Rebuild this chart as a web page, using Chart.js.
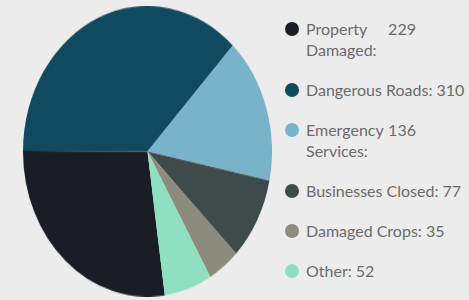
<!DOCTYPE html>
<html>
<head>
<meta charset="utf-8">
<script src="https://cdn.jsdelivr.net/npm/chart.js@4"></script>
<style>
  html, body { margin: 0; padding: 0; }
  body { width: 469px; height: 300px; background: #ececec; position: relative; overflow: hidden; font-family: Lato, "Open Sans", sans-serif; }
  #pieBox { position: absolute; left: 23px; top: 6px; width: 249px; height: 249px; transform: scaleY(1.168); transform-origin: top left; }
  #legend { position: absolute; left: 285px; top: 18px; color: #6b6b6b; font-size: 16px; line-height: 21px; }
  .row { display: flex; align-items: flex-start; margin-bottom: 19px; white-space: nowrap; }
  .dot { width: 14px; height: 14px; border-radius: 50%; margin-top: 4px; margin-right: 7px; flex: none; }
  .lbl.wrap { display: inline-block; width: 78px; white-space: normal; }
</style>
</head>
<body>
<div id="pieBox"><canvas id="pie" width="249" height="249"></canvas></div>
<div id="legend"></div>
<script>
var categories = ["Property Damaged", "Dangerous Roads", "Emergency Services", "Businesses Closed", "Damaged Crops", "Other"];
var counts = [229, 310, 136, 77, 35, 52];
var sliceColors = ["#1b1d26", "#0f4a5e", "#79b3c9", "#3f4b4a", "#8d8b7e", "#8fe0c0"];
var wrapped = ["Property Damaged", "Emergency Services"];

new Chart("pie", {
  type: "pie",
  data: {
    labels: categories,
    datasets: [{
      backgroundColor: sliceColors,
      borderWidth: 0,
      data: counts
    }]
  },
  options: {
    responsive: false,
    animation: false,
    rotation: 172,
    layout: { padding: 0 },
    plugins: {
      legend: { display: false },
      tooltip: { enabled: false }
    }
  }
});

var legend = document.getElementById("legend");
categories.forEach(function (name, i) {
  var row = document.createElement("div");
  row.className = "row";
  var dot = document.createElement("span");
  dot.className = "dot";
  dot.style.background = sliceColors[i];
  var text = document.createElement("span");
  var lbl = document.createElement("span");
  lbl.className = wrapped.indexOf(name) >= 0 ? "lbl wrap" : "lbl";
  lbl.textContent = name + ":";
  text.appendChild(lbl);
  var val = document.createElement("span");
  val.style.verticalAlign = "top";
  val.textContent = " " + counts[i];
  text.appendChild(val);
  row.appendChild(dot);
  row.appendChild(text);
  legend.appendChild(row);
});
</script>
</body>
</html>
